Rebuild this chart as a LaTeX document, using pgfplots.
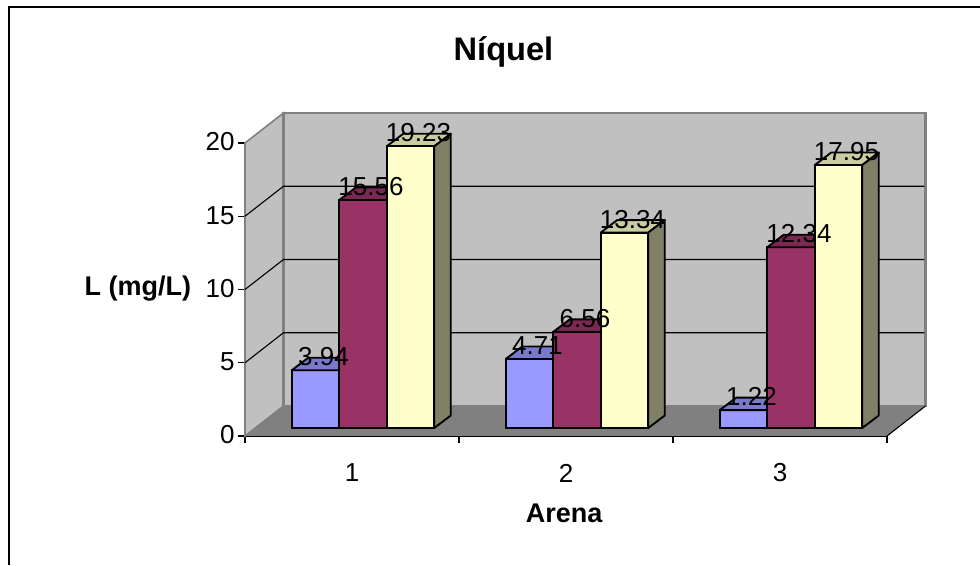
\documentclass[border=0pt]{standalone}
\usepackage{pgfplots}
\usepackage{pgfplotstable}
\usepackage{fontspec}
\setmainfont{Liberation Sans}
\pgfplotsset{compat=1.18}

\definecolor{wall}{HTML}{C0C0C0}
\definecolor{floorc}{HTML}{808080}
\definecolor{blueF}{HTML}{9999FF}
\definecolor{blueT}{HTML}{7A7ACC}
\definecolor{plumF}{HTML}{993366}
\definecolor{plumT}{HTML}{7A2952}
\definecolor{creamF}{HTML}{FFFFCC}
\definecolor{creamT}{HTML}{CCCCA3}
\definecolor{creamS}{HTML}{808066}

% One table per series: category and nickel concentration
\pgfplotstableread{
x v
1 3.94
2 4.71
3 1.22
}\seriesA
\pgfplotstableread{
x v
1 15.56
2 6.56
3 12.34
}\seriesB
\pgfplotstableread{
x v
1 19.23
2 13.34
3 17.95
}\seriesC

% Receding faces of a bar: depth is 0.0771 category units and 0.853 value units
\newcommand{\topface}[3]{%
  \pgfmathsetmacro\xb{#1+0.222}%
  \pgfmathsetmacro\xc{#1+0.222+0.0771}%
  \pgfmathsetmacro\xd{#1+0.0771}%
  \pgfmathsetmacro\yt{#2+0.853}%
  \addplot[draw=black,line width=1.9pt,line join=round,fill=#3] coordinates {(#1,#2) (\xb,#2) (\xc,\yt) (\xd,\yt)} -- cycle;
}
\newcommand{\sideface}[3]{%
  \pgfmathsetmacro\xc{#1+0.0771}%
  \pgfmathsetmacro\yt{#2+0.853}%
  \addplot[draw=black,line width=1.9pt,line join=round,fill=#3] coordinates {(#1,0) (\xc,0.853) (\xc,\yt) (#1,#2)} -- cycle;
}

\pgfplotsset{
  barlabel/.style={
    draw=none, mark=none, point meta=y, nodes near coords,
    /pgf/number format/assume math mode=true,
    /pgf/number format/fixed, /pgf/number format/fixed zerofill, /pgf/number format/precision=2,
    every node near coord/.style={anchor=center, inner sep=0pt, xshift=8pt, yshift=13.5pt,
      font=\fontsize{26}{31}\selectfont, text=black},
  },
}

\begin{document}
\begin{tikzpicture}[x=1pt,y=1pt]
\path[use as bounding box,fill=white] (0,0) rectangle (980,565);
\draw[black,line width=2.4pt] (9,0) -- (9,557.7) -- (980,557.7);

% Chart box: side wall, back wall, floor, gridlines and the scales
\begin{axis}[
  at={(245pt,129pt)}, anchor=origin,
  scale only axis, width=642pt, height=293pt,
  xmin=0.5, xmax=3.5, ymin=0, ymax=20,
  clip=false,
  axis x line*=bottom, axis y line*=left,
  x axis line style={black,line width=1.2pt},
  y axis line style={floorc,line width=1.6pt},
  xtick={1,2,3}, minor xtick={0.5,1.5,2.5,3.5},
  ytick={0,5,10,15,20},
  tick align=outside,
  major tick length=7pt, minor tick length=7pt,
  major x tick style={draw=none},
  minor x tick style={black,line width=1.2pt},
  ytick style={black,line width=1.2pt},
  tick label style={font=\fontsize{26}{31}\selectfont},
  /pgf/number format/assume math mode=true,
  xticklabel style={anchor=center,yshift=-30pt},
  yticklabel style={anchor=east,xshift=0pt,yshift=1pt},
  title={Níquel},
  title style={font=\bfseries\fontsize{32.6}{38}\selectfont,anchor=center,yshift=-9pt,at={(axis description cs:0.4026,1.321)}},
  xlabel={Arena},
  xlabel style={font=\bfseries\fontsize{27}{32}\selectfont,anchor=center,at={(axis description cs:0.497,-0.263)}},
  ylabel={L (mg/L)},
  ylabel style={font=\bfseries\fontsize{27}{32}\selectfont,rotate=-90,anchor=center,at={(axis description cs:-0.1667,0.5015)}},
]
\addplot[draw=floorc,line width=1.6pt,fill=wall] coordinates {(0.5,0) (0.68,2.05) (0.68,22.05) (0.5,20)} -- cycle;
\addplot[draw=floorc,line width=2.6pt,fill=wall] coordinates {(0.68,2.05) (3.68,2.05) (3.68,22.05) (0.68,22.05)} -- cycle;
\addplot[draw=none,fill=floorc] coordinates {(0.5,0) (3.5,0) (3.68,2.05) (0.68,2.05)} -- cycle;
\addplot[black,line width=1.1pt] coordinates {(3.5,0) (3.68,2.05)};
\addplot[black,line width=1.1pt] coordinates {(0.5,5) (0.68,7.05) (3.675,7.05)};
\addplot[black,line width=1.1pt] coordinates {(0.5,10) (0.68,12.05) (3.675,12.05)};
\addplot[black,line width=1.1pt] coordinates {(0.5,15) (0.68,17.05) (3.675,17.05)};
\end{axis}

% Bars stand on a plane set back from the front edge of the floor
\begin{axis}[
  at={(256pt,137pt)}, anchor=origin,
  scale only axis, width=642pt, height=293pt,
  xmin=0.5, xmax=3.5, ymin=0, ymax=20,
  clip=false, hide axis,
]
\addplot[ybar,bar width=47.5pt,bar shift=-47.5pt,draw=black,line width=1.9pt,fill=blueF] table[x=x,y=v] {\seriesA};
\topface{0.667}{3.94}{blueT}
\topface{1.667}{4.71}{blueT}
\topface{2.667}{1.22}{blueT}

\addplot[ybar,bar width=47.5pt,bar shift=0pt,draw=black,line width=1.9pt,fill=plumF] table[x=x,y=v] {\seriesB};
\topface{0.889}{15.56}{plumT}
\topface{1.889}{6.56}{plumT}
\topface{2.889}{12.34}{plumT}

\topface{1.111}{19.23}{creamT}
\topface{2.111}{13.34}{creamT}
\topface{3.111}{17.95}{creamT}
\sideface{1.333}{19.23}{creamS}
\sideface{2.333}{13.34}{creamS}
\sideface{3.333}{17.95}{creamS}
\addplot[ybar,bar width=47.5pt,bar shift=47.5pt,draw=black,line width=1.9pt,fill=creamF] table[x=x,y=v] {\seriesC};

% Value labels sit above every bar
\addplot[barlabel] table[x expr=\thisrow{x}-0.222,y=v] {\seriesA};
\addplot[barlabel] table[x=x,y=v] {\seriesB};
\addplot[barlabel] table[x expr=\thisrow{x}+0.222,y=v] {\seriesC};
\end{axis}
\end{tikzpicture}
\end{document}
